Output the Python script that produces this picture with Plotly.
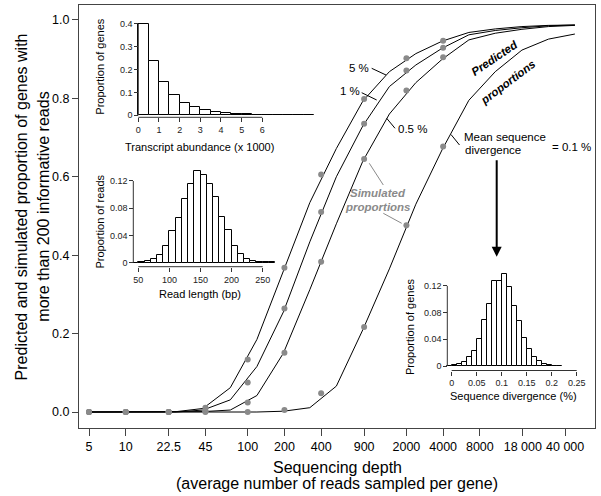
import plotly.graph_objects as go

# ---------------- data ----------------
depth_ticks = [5, 10, 22.5, 45, 100, 200, 400, 900, 2000, 4000, 8000, 18000, 40000]
depth_labels = ["5", "10", "22.5", "45", "100", "200", "400", "900", "2000", "4000",
                "8000", "18 000", "40 000"]

sim_depth = [5, 10, 22.5, 45, 100, 200, 400, 900, 2000, 4000]
sim_5 = [0, 0, 0, 0.011, 0.134, 0.368, 0.606, 0.798, 0.902, 0.947]
sim_1 = [0, 0, 0, 0.004, 0.075, 0.264, 0.510, 0.735, 0.871, 0.929]
sim_05 = [0, 0, 0, 0.001, 0.024, 0.151, 0.383, 0.645, 0.820, 0.905]
sim_01 = [0, 0, 0, 0, 0.0, 0.005, 0.048, 0.217, 0.476, 0.677]

pred_depth = [5, 10, 16, 26, 43, 72, 119, 196, 323, 533, 879, 1450, 2390, 3940,
              6500, 10700, 17700, 29200, 48100]
pred_5 = [0, 0, 0, 0.001, 0.009, 0.062, 0.185, 0.361, 0.534, 0.672, 0.793, 0.868,
          0.914, 0.946, 0.968, 0.977, 0.983, 0.986, 0.987]
pred_1 = [0, 0, 0, 0, 0.005, 0.031, 0.116, 0.255, 0.434, 0.600, 0.730, 0.830,
          0.885, 0.928, 0.962, 0.973, 0.980, 0.985, 0.987]
pred_05 = [0, 0, 0, 0, 0.001, 0.005, 0.042, 0.150, 0.312, 0.480, 0.640, 0.760,
           0.840, 0.900, 0.949, 0.966, 0.976, 0.983, 0.986]
pred_01 = [0, 0, 0, 0, 0, 0, 0, 0.002, 0.011, 0.066, 0.210, 0.365, 0.530, 0.670,
           0.795, 0.868, 0.923, 0.951, 0.964]

# inset 1: transcript abundance (x 1000), bins of 0.5
abund_centers = [0.25, 0.75, 1.25, 1.75, 2.25, 2.75, 3.25, 3.75, 4.25, 4.75, 5.25,
                 5.75, 6.25, 6.75, 7.25, 7.75, 8.25]
abund_props = [0.400, 0.238, 0.147, 0.090, 0.053, 0.035, 0.022, 0.015, 0.009, 0.006,
               0.004, 0.003, 0.002, 0.0015, 0.001, 0.001, 0.0005]

# inset 2: read length (bp), bins of 10
read_centers = [45, 55, 65, 75, 85, 95, 105, 115, 125, 135, 145, 155, 165, 175, 185,
                195, 205, 215, 225, 235, 245, 255, 265]
read_props = [0.0002, 0.0005, 0.003, 0.006, 0.012, 0.025, 0.047, 0.066, 0.094, 0.115,
              0.134, 0.128, 0.116, 0.096, 0.067, 0.048, 0.025, 0.013, 0.006, 0.003,
              0.001, 0.0005, 0.0003]

# inset 3: sequence divergence (%), bins of 0.01
div_centers = [-0.005, 0.005, 0.015, 0.025, 0.035, 0.045, 0.055, 0.065, 0.075, 0.085,
               0.095, 0.105, 0.115, 0.125, 0.135, 0.145, 0.155, 0.165, 0.175, 0.185,
               0.195, 0.205, 0.215]
div_props = [0.0002, 0.001, 0.0025, 0.0065, 0.013, 0.0225, 0.041, 0.069, 0.0925,
             0.1275, 0.1275, 0.1375, 0.119, 0.090, 0.067, 0.0415, 0.025, 0.014,
             0.0075, 0.003, 0.0015, 0.0005, 0.0003]

# ---------------- layout helpers ----------------
W, H = 601, 496
L, R, T, B = 79, 595, 5, 428
FONT = "Liberation Sans, Arial, Helvetica, sans-serif"


def PX(px):
    return (px - L) / (R - L)


def PY(py):
    return (B - py) / (B - T)


fig = go.Figure()

for ys in [pred_5, pred_1, pred_05, pred_01]:
    fig.add_trace(go.Scatter(x=pred_depth, y=ys, mode="lines",
                             line=dict(color="black", width=1),
                             hoverinfo="skip", showlegend=False))
for ys in [sim_5, sim_1, sim_05, sim_01]:
    fig.add_trace(go.Scatter(x=sim_depth, y=ys, mode="markers",
                             marker=dict(color="#8a8a8a", size=6),
                             hoverinfo="skip", showlegend=False))

bar_style = dict(marker=dict(color="white", line=dict(color="black", width=1)),
                 hoverinfo="skip", showlegend=False)
fig.add_trace(go.Bar(x=abund_centers, y=abund_props, width=0.5, xaxis="x2", yaxis="y2", **bar_style))
fig.add_trace(go.Bar(x=read_centers, y=read_props, width=10, xaxis="x3", yaxis="y3", **bar_style))
fig.add_trace(go.Bar(x=div_centers, y=div_props, width=0.01, xaxis="x4", yaxis="y4", **bar_style))

tick_font = dict(family=FONT, size=12.5, color="black")
inset_tick_font = dict(family=FONT, size=9, color="#222")

inset_common = dict(showgrid=False, zeroline=False, showline=False, ticks="outside",
                    tickcolor="#333", tickwidth=1, tickfont=inset_tick_font, anchor="free")

fig.update_layout(
    width=W, height=H,
    margin=dict(l=L, r=W - R, t=T, b=H - B),
    paper_bgcolor="white", plot_bgcolor="rgba(0,0,0,0)",
    font=dict(family=FONT, color="black"),
    bargap=0,
    xaxis=dict(type="log", range=[0.617, 4.847], tickvals=depth_ticks, ticktext=depth_labels,
               ticks="outside", ticklen=7, tickcolor="#444", showline=True, mirror=True,
               linecolor="#444", linewidth=1, showgrid=False, zeroline=False, tickfont=tick_font),
    yaxis=dict(range=[-0.0408, 1.038], tickvals=[0, 0.2, 0.4, 0.6, 0.8, 1.0],
               ticktext=["0.0", "0.2", "0.4", "0.6", "0.8", "1.0"],
               ticks="outside", ticklen=6, tickcolor="#444", showline=True, mirror=True,
               linecolor="#444", linewidth=1, showgrid=False, zeroline=False, tickfont=tick_font),
    xaxis2=dict(domain=[PX(130), PX(320)], range=[-0.4015, 8.791], position=PY(117.3),
                tickvals=[0, 1, 2, 3, 4, 5, 6], ticklen=3.5, **inset_common),
    yaxis2=dict(domain=[PY(122), PY(20)], range=[-0.02935, 0.41743], position=PX(138.3),
                tickvals=[0, 0.1, 0.2, 0.3, 0.4], ticktext=["0", "0.1", "0.2", "0.3", "0.4"],
                ticklen=4, **inset_common),
    xaxis3=dict(domain=[PX(128), PX(280)], range=[33.44, 277.8], position=PY(266.7),
                tickvals=[50, 100, 150, 200, 250], ticklen=4, **inset_common),
    yaxis3=dict(domain=[PY(270), PY(168)], range=[-0.0107, 0.13875], position=PX(133.3),
                tickvals=[0, 0.04, 0.08, 0.12], ticktext=["0", "0.04", "0.08", "0.12"],
                ticklen=4, **inset_common),
    xaxis4=dict(domain=[PX(440), PX(585)], range=[-0.0234, 0.2666], position=PY(370.5),
                tickvals=[0, 0.05, 0.1, 0.15, 0.2, 0.25],
                ticktext=["0", "0.05", "0.1", "0.15", "0.2", "0.25"], ticklen=4, **inset_common),
    yaxis4=dict(domain=[PY(375), PY(270)], range=[-0.01348, 0.14382], position=PX(447.3),
                tickvals=[0, 0.04, 0.08, 0.12], ticktext=["0", "0.04", "0.08", "0.12"],
                ticklen=4, **inset_common),
)

shapes = []


def seg(x0, y0, x1, y1, color="black", width=1):
    shapes.append(dict(type="line", xref="paper", yref="paper",
                       x0=PX(x0), y0=PY(y0), x1=PX(x1), y1=PY(y1),
                       line=dict(color=color, width=width)))


# inset axis lines (R style, spanning tick range)
seg(138.3, 115.3, 138.3, 24, "#333")
seg(138.3, 117.3, 262.3, 117.3, "#333")
seg(133.3, 262.7, 133.3, 181, "#333")
seg(138.3, 266.7, 262.7, 266.7, "#333")
seg(447.3, 366, 447.3, 285.9, "#333")
seg(451.7, 370.5, 576.7, 370.5, "#333")

# leader lines
seg(371.7, 68.3, 386, 75)
seg(361.7, 92.7, 376.7, 100)
seg(386.7, 118.3, 395, 128.3)
seg(451, 134.5, 459.5, 145)
seg(369.3, 163.3, 383.3, 185, "#8a8a8a")
seg(383.3, 213.3, 401.7, 223.3, "#8a8a8a")

fig.update_layout(shapes=shapes)

ann = []


def text(px, py, s, size=11.5, color="black", angle=0, xanchor="center", yanchor="middle"):
    ann.append(dict(xref="paper", yref="paper", x=PX(px), y=PY(py), text=s, showarrow=False,
                    textangle=angle, xanchor=xanchor, yanchor=yanchor,
                    font=dict(family=FONT, size=size, color=color)))


# axis titles
text(21.7, 206.7, "Predicted and simulated proportion of genes with", 16, angle=-90)
text(44, 206.7, "more than 200 informative reads", 16, angle=-90)
text(337, 467.5, "Sequencing depth", 16)
text(337, 483, "(average number of reads sampled per gene)", 16)

# inset titles
text(199, 146.7, "Transcript abundance (x 1000)", 11)
text(100, 66.7, "Proportion of genes", 11, angle=-90)
text(200, 294, "Read length (bp)", 11)
text(99.5, 222, "Proportion of reads", 11, angle=-90)
text(513.3, 396, "Sequence divergence (%)", 11)
text(410, 327, "Proportion of genes", 11, angle=-90)

# curve labels
text(359.3, 67.7, "5 %")
text(350, 90.7, "1 %")
text(412.5, 129.3, "0.5 %")
text(378, 192.7, "<b><i>Simulated</i></b>", 11.5, "#8a8a8a")
text(377.7, 206.7, "<b><i>proportions</i></b>", 11.5, "#8a8a8a")
text(494.5, 58.0, "<b><i>Predicted</i></b>", 11.5, angle=-34)
text(508.0, 82.0, "<b><i>proportions</i></b>", 11.5, angle=-37)
text(462, 136.7, "Mean sequence", 11.5, xanchor="left")
text(462.5, 150, "divergence", 11.5, xanchor="left")
text(550, 146.7, "= 0.1 %", 11.5, xanchor="left")

# arrow
ann.append(dict(xref="paper", yref="paper", x=PX(496.7), y=PY(256.7), ax=0, ay=-98,
                text="", showarrow=True, arrowhead=2, arrowsize=1, arrowwidth=2,
                arrowcolor="black", standoff=0))

fig.update_layout(annotations=ann)

fig.write_html("out.html", config={"displayModeBar": False},
               post_script="document.body.style.margin='0';document.body.style.overflow='hidden';")
